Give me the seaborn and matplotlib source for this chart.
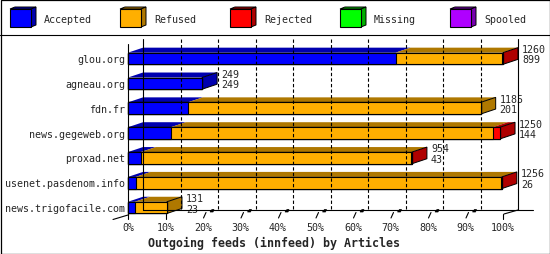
import numpy as np
import matplotlib
matplotlib.use("Agg")
import matplotlib.pyplot as plt
import matplotlib.transforms as mtransforms
from matplotlib.patches import Polygon, Rectangle
from matplotlib.lines import Line2D
import seaborn as sns

# ---------------- data ----------------
feeds = ["glou.org", "agneau.org", "fdn.fr", "news.gegeweb.org",
         "proxad.net", "usenet.pasdenom.info", "news.trigofacile.com"]
accepted = [899, 249, 201, 144, 43, 26, 23]
refused = [358, 0, 984, 1082, 909, 1227, 108]
rejected = [3, 0, 0, 24, 2, 3, 0]
missing = [0, 0, 0, 0, 0, 0, 0]
spooled = [0, 0, 0, 0, 0, 0, 0]
total_labels = [1260, 249, 1185, 1250, 954, 1256, 131]
accepted_labels = [899, 249, 201, 144, 43, 26, 23]
series_names = ["Accepted", "Refused", "Rejected", "Missing", "Spooled"]
front_colors = ["#0000ff", "#ffaf00", "#ff0000", "#00ff00", "#af00ff"]
dark_colors = ["#0000af", "#af7800", "#af0000", "#00af00", "#7800af"]
tick_labels = ["0%", "10%", "20%", "30%", "40%", "50%",
               "60%", "70%", "80%", "90%", "100%"]
title = "Outgoing feeds (innfeed) by Articles"

# ---------------- figure ----------------
sns.set_theme(style="white")
plt.rcParams["font.family"] = ["DejaVu Sans Mono"]
W, H = 550, 255
fig = plt.figure(figsize=(W / 100, H / 100), dpi=100)
fig.patch.set_facecolor("white")
ax = fig.add_axes([0, 0, 1, 1])
ax.set_facecolor("none")
PX = mtransforms.Affine2D().scale(1 / W, -1 / H).translate(0, 1) + fig.transFigure

segs = np.array([accepted, refused, rejected, missing, spooled])
cum = segs.cumsum(axis=0)
vmax = cum[-1].max()

x0px, spanpx = 128, 375
s = spanpx / vmax
row0, rowstep = 59.5, 24.85
DX, DY = 15, 5
dxd = DX / s
dyd = DY / rowstep
bh = 0.47

# front faces (stacked, drawn widest first)
for k in range(len(series_names) - 1, -1, -1):
    sns.barplot(x=cum[k], y=feeds, orient="h", color=front_colors[k],
                saturation=1, width=bh, edgecolor="black", linewidth=0.8,
                errorbar=None, ax=ax, zorder=3)

ax.set_xlim(-x0px / s, (W - x0px) / s)
ax.set_ylim((H - row0) / rowstep, -row0 / rowstep)
ax.axis("off")

# 3D top and side faces
for i in range(len(feeds)):
    yt = i - bh / 2
    yb = i + bh / 2
    prev = 0
    last = None
    for k in range(len(series_names)):
        if segs[k, i] <= 0:
            continue
        x1 = cum[k, i]
        ax.add_patch(Polygon([(prev, yt), (x1, yt), (x1 + dxd, yt - dyd),
                              (prev + dxd, yt - dyd)], closed=True,
                             facecolor=dark_colors[k], edgecolor="none",
                             zorder=2))
        prev = x1
        last = k
    T = cum[-1, i]
    ax.add_patch(Polygon([(T, yt), (T, yb), (T + dxd, yb - dyd),
                          (T + dxd, yt - dyd)], closed=True,
                         facecolor=dark_colors[last], edgecolor="black",
                         linewidth=0.7, zorder=2.5))
    # value labels
    ax.text(T + 19 / s, i - 9.5 / rowstep, str(total_labels[i]),
            fontsize=7.2, ha="left", va="center", zorder=4)
    ax.text(T + 19 / s, i + 1.0 / rowstep, str(accepted_labels[i]),
            fontsize=7.2, ha="left", va="center", zorder=4)
    # category labels
    ax.text(-3 / s, i + 0.5 / rowstep, feeds[i], fontsize=7.2,
            ha="right", va="center", zorder=4)

# ---------------- frame / grid (pixel space) ----------------
def pline(xs, ys, **kw):
    kw.setdefault("color", "black")
    kw.setdefault("linewidth", 0.8)
    fig.add_artist(Line2D(xs, ys, transform=PX, **kw))

for j in range(1, 10):
    gx = x0px + DX + spanpx * j / 10
    pline([gx, gx], [40, 211], linestyle=(0, (3, 2)), zorder=1)

pline([x0px, x0px], [45, 216], zorder=1)
pline([x0px + DX, x0px + DX], [40, 211], zorder=1)
pline([x0px + DX + spanpx, x0px + DX + spanpx], [40, 211], zorder=1)
pline([x0px + DX, x0px + DX + spanpx + 15], [211, 211], zorder=1)
pline([x0px - DX, x0px], [220.5, 216], zorder=1)
pline([x0px + spanpx + 1, x0px + spanpx + DX], [215, 211], zorder=1)

for j, lab in enumerate(tick_labels):
    tx = x0px + spanpx * j / 10
    if j in (0, 1, 10):
        pline([tx, tx], [215, 220], zorder=1)
    else:
        pline([tx + 0.5, tx + 3], [219, 213.5], zorder=1)
        fig.add_artist(Polygon([(tx + 7, 213), (tx + 9, 210.5), (tx + 11, 210.5),
                                (tx + 10, 213)], closed=True, transform=PX,
                               facecolor="black", edgecolor="black",
                               linewidth=0.5, zorder=1))
    fig.text(tx, 228, lab, transform=PX, fontsize=7.2, ha="center",
             va="center")

fig.text(274, 243.5, title, transform=PX, fontsize=8.4, fontweight="bold",
         ha="center", va="center")

# ---------------- legend (cubes) ----------------
for k, name in enumerate(series_names):
    lx = 10 + 110 * k
    fig.add_artist(Polygon([(lx, 10), (lx + 21, 10), (lx + 26, 8), (lx + 5, 8)],
                           closed=True, transform=PX,
                           facecolor=dark_colors[k], edgecolor="black",
                           linewidth=0.7))
    fig.add_artist(Polygon([(lx + 21, 10), (lx + 21, 28), (lx + 26, 26),
                            (lx + 26, 8)], closed=True, transform=PX,
                           facecolor=dark_colors[k], edgecolor="black",
                           linewidth=0.7))
    fig.add_artist(Rectangle((lx, 10), 21, 18, transform=PX,
                             facecolor=front_colors[k], edgecolor="black",
                             linewidth=0.8))
    fig.text(lx + 34, 20, name, transform=PX, fontsize=7.2, ha="left",
             va="center")

# border + separator
fig.add_artist(Rectangle((0.5, 0.5), W - 1, H - 1, transform=PX,
                         facecolor="none", edgecolor="black", linewidth=0.9))
pline([0, W], [35.5, 35.5])

fig.savefig("out.png", dpi=100, facecolor="white")
